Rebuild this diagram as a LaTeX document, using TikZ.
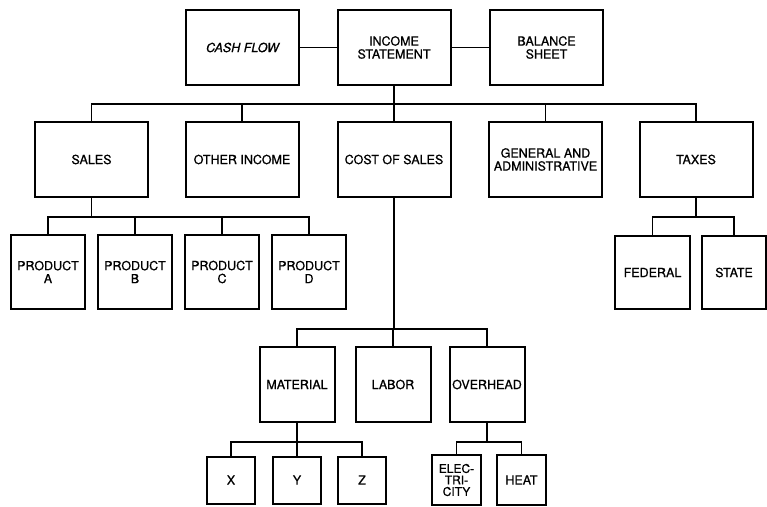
\documentclass[tikz,border=0pt]{standalone}
\usepackage{fontspec}
\setmainfont{TeX Gyre Heros}[FakeBold=0.8]
\begin{document}
\begin{tikzpicture}[x=1pt,y=-1pt,
  box/.style={draw,line width=2pt,inner sep=0pt,align=center,
    font=\fontsize{12.5}{13}\selectfont},
  big/.style={box,minimum width=113pt,minimum height=75pt},
  prod/.style={box,minimum width=74pt,minimum height=74pt},
  mid/.style={box,minimum width=75pt,minimum height=75pt},
  small/.style={box,minimum width=48pt,minimum height=47pt},
  link/.style={line width=1.3pt}]
\useasboundingbox (0,0) rectangle (767,506);
% top row
\node[big] (CF) at (242.5,47.5) {\itshape CASH FLOW};
\node[big] (IS) at (394,47.5) {INCOME\\STATEMENT};
\node[big] (BS) at (546.5,47.5) {BALANCE\\SHEET};
% second row
\node[big] (SAL) at (91.5,159.5) {SALES};
\node[big] (OI) at (242,159.5) {OTHER INCOME};
\node[big] (COS) at (394,159.5) {COST OF SALES};
\node[big] (GA) at (545.5,159.5) {GENERAL AND\\ADMINISTRATIVE};
\node[big] (TAX) at (696,159.5) {TAXES};
% products
\node[prod] (PA) at (48,272) {PRODUCT\\A};
\node[prod] (PB) at (135,272) {PRODUCT\\B};
\node[prod] (PC) at (222,272) {PRODUCT\\C};
\node[prod] (PD) at (309,272) {PRODUCT\\D};
% taxes
\node[box,minimum width=75pt,minimum height=73pt] (FED) at (652.5,272.5) {FEDERAL};
\node[box,minimum width=64pt,minimum height=73pt] (ST) at (734,272.5) {STATE};
% cost of sales
\node[mid] (MAT) at (297,384.5) {MATERIAL};
\node[mid] (LAB) at (393,384.5) {LABOR};
\node[mid] (OVH) at (487,384.5) {OVERHEAD};
% material
\node[small] (X) at (231,480) {X};
\node[small] (Y) at (297,480) {Y};
\node[small] (Z) at (362,480) {Z};
% overhead
\node[small,minimum width=49pt,minimum height=50pt,font=\fontsize{12}{11.5}\selectfont] (EL) at (456.5,480) {ELEC-\\TRI-\\CITY};
\node[small,minimum width=49pt,minimum height=50pt] (HT) at (521.5,480) {HEAT};
% connectors
\draw[link] (CF.east) -- (IS.west);
\draw[link] (IS.east) -- (BS.west);
\draw[link] (IS.south) -- ++(0,18) coordinate (b1);
\draw[link] (SAL.north) |- (b1) -| (TAX.north);
\draw[link] (OI.north) -- (OI.north |- b1);
\draw[link] (COS.north) -- (COS.north |- b1);
\draw[link] (GA.north) -- (GA.north |- b1);
\draw[link] (SAL.south) -- ++(0,19) coordinate (b2);
\draw[link] (PA.north) |- (b2) -| (PD.north);
\draw[link] (PB.north) -- (PB.north |- b2);
\draw[link] (PC.north) -- (PC.north |- b2);
\draw[link] (TAX.south) -- ++(0,19) coordinate (b3);
\draw[link] (FED.north) |- (b3) -| (ST.north);
\draw[link] (COS.south) -- ++(0,131) coordinate (b4);
\draw[link] (MAT.north) |- (b4) -| (OVH.north);
\draw[link] (LAB.north) -- (LAB.north |- b4);
\draw[link] (MAT.south) -- ++(0,19) coordinate (b5);
\draw[link] (X.north) |- (b5) -| (Z.north);
\draw[link] (Y.north) -- (Y.north |- b5);
\draw[link] (OVH.south) -- ++(0,19) coordinate (b6);
\draw[link] (EL.north) |- (b6) -| (HT.north);
\end{tikzpicture}
\end{document}
